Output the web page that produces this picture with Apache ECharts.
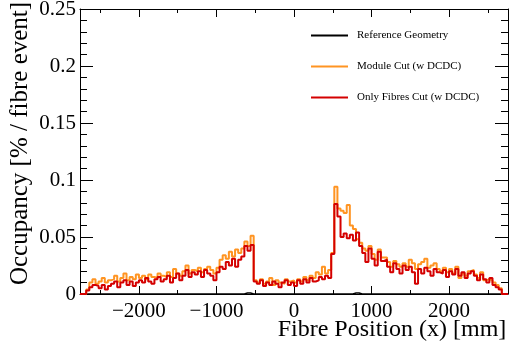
<!DOCTYPE html>
<html>
<head>
<meta charset="utf-8">
<script src="https://cdn.jsdelivr.net/npm/echarts@6/dist/echarts.min.js"></script>
<style>
  html, body { margin: 0; padding: 0; background: #fff; }
  #chart { width: 510px; height: 350px; }
</style>
</head>
<body>
<div id="chart"></div>
<script>
// Histogram binning (mm): 138 bins of 40 mm covering the full axis range
const binStart = -2760;
const binWidth = 40;
const xMin = -2760;
const xMax = 2760;

// Major / minor x tick positions (mm)
const xMajorTicks = [-2000, -1000, 0, 1000, 2000];
const xMinorTicks = [-2500, -1500, -500, 500, 1500, 2500];

// Occupancy [% / fibre event] per bin
const referenceGeometry = [
  0, 0, 0, 0, 0, 0, 0, 0, 0, 0,
  0, 0, 0, 0, 0, 0, 0, 0, 0, 0,
  0, 0, 0, 0, 0, 0, 0, 0, 0, 0,
  0, 0, 0, 0, 0, 0, 0, 0, 0, 0,
  0, 0, 0, 0, 0, 0, 0, 0, 0, 0,
  0, 0, 0, 0.0008, 0.0008, 0, 0, 0, 0, 0,
  0, 0, 0, 0, 0, 0, 0, 0, 0, 0,
  0, 0, 0, 0, 0, 0, 0, 0, 0, 0,
  0, 0, 0, 0, 0, 0, 0, 0, 0.0008, 0.0008,
  0, 0, 0, 0, 0, 0, 0, 0, 0, 0,
  0, 0, 0, 0, 0, 0, 0, 0, 0, 0,
  0, 0, 0, 0, 0, 0, 0, 0, 0, 0,
  0, 0, 0, 0, 0, 0, 0, 0, 0, 0,
  0, 0, 0, 0, 0, 0, 0, 0
];

const moduleCut = [
  0, 0,
  0.004, 0.010, 0.013, 0.009, 0.011, 0.014, 0.010, 0.012,
  0.013, 0.016, 0.011, 0.014, 0.018, 0.012, 0.015, 0.013, 0.017,
  0.014, 0.016, 0.013, 0.017, 0.015, 0.014, 0.018, 0.016, 0.015,
  0.019, 0.015, 0.022, 0.018, 0.016, 0.020, 0.025, 0.018,
  0.021, 0.020, 0.023, 0.019, 0.022, 0.024,
  0.021, 0.018, 0.023, 0.030,
  0.034, 0.031, 0.037, 0.033, 0.039, 0.036,
  0.040, 0.046, 0.042, 0.051,
  0.012, 0.010, 0.013, 0.009, 0.011, 0.014, 0.008, 0.012, 0.010, 0.009, 0.013, 0.011, 0.012, 0.010,
  0.013, 0.011, 0.015, 0.012, 0.016, 0.014, 0.019, 0.017, 0.024, 0.018, 0.021, 0.036,
  0.094, 0.075, 0.073, 0.071, 0.078, 0.060, 0.057, 0.048, 0.045,
  0.040, 0.038, 0.042, 0.035, 0.030, 0.039, 0.032,
  0.032, 0.028, 0.024, 0.029, 0.026, 0.024, 0.027,
  0.024, 0.030, 0.027, 0.022, 0.026, 0.028, 0.031, 0.023, 0.025, 0.027, 0.022,
  0.020, 0.023, 0.019, 0.022, 0.018, 0.024, 0.014, 0.018, 0.016, 0.020, 0.021,
  0.017, 0.014, 0.019, 0.012, 0.013, 0.012, 0.010,
  0.008, 0.005, 0, 0
];

const fibresCut = [
  0, 0,
  0.003, 0.006, 0.008, 0.007, 0.005, 0.008, 0.004, 0.007,
  0.009, 0.011, 0.006, 0.010, 0.012, 0.008, 0.011, 0.007, 0.010,
  0.012, 0.010, 0.014, 0.011, 0.009, 0.013, 0.015, 0.011, 0.013,
  0.016, 0.010, 0.014, 0.018, 0.012, 0.016, 0.021, 0.015,
  0.019, 0.017, 0.020, 0.015, 0.021, 0.018,
  0.016, 0.012, 0.019, 0.024,
  0.022, 0.028, 0.025, 0.031, 0.024, 0.030,
  0.033, 0.042, 0.038, 0.043,
  0.011, 0.009, 0.012, 0.007, 0.010, 0.008, 0.011, 0.009, 0.006, 0.010, 0.012, 0.008, 0.010, 0.007,
  0.012, 0.009, 0.013, 0.010, 0.014, 0.011, 0.012, 0.015, 0.013, 0.016, 0.014, 0.035,
  0.079, 0.068, 0.050, 0.053, 0.049, 0.052, 0.047, 0.054, 0.042,
  0.036, 0.028, 0.040, 0.031, 0.025, 0.037, 0.029,
  0.030, 0.024, 0.019, 0.027, 0.022, 0.018, 0.025,
  0.021, 0.024, 0.019, 0.009, 0.022, 0.018, 0.023, 0.020, 0.016, 0.022, 0.019,
  0.018, 0.021, 0.015, 0.020, 0.017, 0.022, 0.016, 0.019, 0.014, 0.018, 0.020,
  0.016, 0.012, 0.017, 0.013, 0.010, 0.014, 0.008,
  0.006, 0.004, 0, 0
];

const seriesNames = ['Reference Geometry', 'Module Cut (w DCDC)', 'Only Fibres Cut (w DCDC)'];
const seriesColors = ['#000000', '#ff9422', '#d40000'];

// Turn per-bin contents into step-line points at the bin edges
function histSteps(values) {
  const pts = values.map((v, i) => [binStart + i * binWidth, v]);
  pts.push([binStart + values.length * binWidth, values[values.length - 1]]);
  return pts;
}

const FONT = '"Liberation Serif", "DejaVu Serif", serif';
const gridBox = { left: 80, right: 2, top: 9, bottom: 56, containLabel: false, outerBoundsMode: 'none' };
const minusFmt = v => (v < 0 ? '\u2212' + Math.abs(v) : String(v));

const chart = echarts.init(document.getElementById('chart'), null, { renderer: 'canvas' });

const hiddenY = {
  type: 'value', min: 0, max: 0.25,
  axisLine: { show: false }, axisTick: { show: false },
  axisLabel: { show: false }, splitLine: { show: false }
};

chart.setOption({
  animation: false,
  backgroundColor: '#ffffff',
  grid: [Object.assign({}, gridBox), Object.assign({}, gridBox)],
  legend: {
    orient: 'vertical',
    left: 306,
    top: 25,
    itemWidth: 37,
    itemHeight: 2,
    itemGap: 20,
    icon: 'rect',
    data: seriesNames,
    textStyle: { fontFamily: FONT, fontSize: 11, color: '#000', padding: [0, 0, 0, 4] }
  },
  xAxis: [
    {
      type: 'value', gridIndex: 0, position: 'bottom', min: xMin, max: xMax,
      name: 'Fibre Position (x) [mm]',
      nameLocation: 'middle',
      nameGap: 24,
      nameMoveOverlap: false,
      nameTextStyle: {
        fontFamily: FONT, fontSize: 24, color: '#000',
        padding: [0, 0, 0, 196]
      },
      axisLine: { show: true, onZero: false, lineStyle: { color: '#000', width: 1 } },
      axisTick: { show: true, inside: true, length: 8, customValues: xMajorTicks, lineStyle: { color: '#000' } },
      axisLabel: {
        show: true, customValues: xMajorTicks, margin: 7, formatter: minusFmt,
        hideOverlap: false,
        fontFamily: FONT, fontSize: 21, color: '#000'
      },
      splitLine: { show: false }
    },
    {
      type: 'value', gridIndex: 0, position: 'top', min: xMin, max: xMax,
      axisLine: { show: true, onZero: false, lineStyle: { color: '#000', width: 1 } },
      axisTick: { show: true, inside: true, length: 8, customValues: xMajorTicks, lineStyle: { color: '#000' } },
      axisLabel: { show: false },
      splitLine: { show: false }
    },
    {
      type: 'value', gridIndex: 1, position: 'bottom', min: xMin, max: xMax,
      axisLine: { show: false, onZero: false },
      axisTick: { show: true, inside: true, length: 4, customValues: xMinorTicks, lineStyle: { color: '#000' } },
      axisLabel: { show: false },
      splitLine: { show: false }
    },
    {
      type: 'value', gridIndex: 1, position: 'top', min: xMin, max: xMax,
      axisLine: { show: false, onZero: false },
      axisTick: { show: true, inside: true, length: 4, customValues: xMinorTicks, lineStyle: { color: '#000' } },
      axisLabel: { show: false },
      splitLine: { show: false }
    }
  ],
  yAxis: [
    {
      type: 'value', gridIndex: 0, position: 'left', min: 0, max: 0.25, interval: 0.05,
      name: 'Occupancy [% / fibre event]',
      nameLocation: 'middle',
      nameGap: 47,
      nameMoveOverlap: false,
      nameRotate: 90,
      nameTextStyle: { fontFamily: FONT, fontSize: 25, color: '#000', padding: [0, 0, 0, 16] },
      axisLine: { show: true, onZero: false, lineStyle: { color: '#000', width: 1 } },
      axisTick: { show: true, inside: true, length: 13, lineStyle: { color: '#000' } },
      minorTick: { show: true, splitNumber: 5, length: 7, lineStyle: { color: '#000' } },
      axisLabel: { show: true, margin: 4, fontFamily: FONT, fontSize: 21, color: '#000' },
      splitLine: { show: false }
    },
    {
      type: 'value', gridIndex: 0, position: 'right', min: 0, max: 0.25, interval: 0.05,
      axisLine: { show: true, onZero: false, lineStyle: { color: '#000', width: 1 } },
      axisTick: { show: true, inside: true, length: 13, lineStyle: { color: '#000' } },
      minorTick: { show: true, splitNumber: 5, length: 7, lineStyle: { color: '#000' } },
      axisLabel: { show: false },
      splitLine: { show: false }
    },
    Object.assign({ gridIndex: 1 }, hiddenY)
  ],
  series: [
    { name: seriesNames[0], data: referenceGeometry, color: seriesColors[0], width: 1.5 },
    { name: seriesNames[1], data: moduleCut, color: seriesColors[1], width: 2 },
    { name: seriesNames[2], data: fibresCut, color: seriesColors[2], width: 2 }
  ].map(s => ({
    name: s.name,
    type: 'line',
    step: 'end',
    xAxisIndex: 0,
    yAxisIndex: 0,
    symbol: 'none',
    showSymbol: false,
    color: s.color,
    lineStyle: { color: s.color, width: s.width },
    data: histSteps(s.data)
  }))
});
</script>
</body>
</html>
